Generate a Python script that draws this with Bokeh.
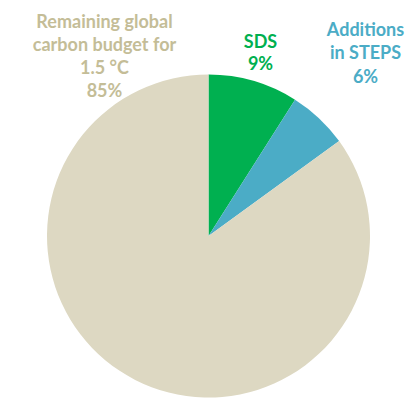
import math
from bokeh.plotting import figure
from bokeh.models import Range1d, ColumnDataSource
from bokeh.core.properties import value
from bokeh.embed import file_html
from bokeh.resources import INLINE

categories = ["SDS", "Additions in STEPS", "Remaining global carbon budget for 1.5 °C"]
shares = [9, 6, 85]
colors = ["#00B050", "#4BACC6", "#DDD8C2"]
text_colors = ["#00B050", "#4BACC6", "#C4BD97"]
label_lines = [["SDS", "9%"], ["Additions", "in STEPS", "6%"],
               ["Remaining global", "carbon budget for", "1.5 °C", "85%"]]

W, H = 405, 398
p = figure(width=W, height=H, output_backend="svg", toolbar_location=None,
           x_range=Range1d(0, W), y_range=Range1d(0, H), min_border=0)
p.axis.visible = False
p.grid.visible = False
p.outline_line_color = None
p.background_fill_color = "white"

cx, cy, r = 208, H - 235.5, 161.5
total = sum(shares)
starts, ends = [], []
acc = 0
for s in shares:
    starts.append(math.pi / 2 - 2 * math.pi * acc / total)
    acc += s
    ends.append(math.pi / 2 - 2 * math.pi * acc / total)

src = ColumnDataSource(dict(start=starts, end=ends, color=colors))
p.wedge(x=cx, y=cy, radius=r, start_angle="start", end_angle="end",
        direction="clock", fill_color="color", line_color=None, source=src)

# label anchor positions (pixel, from top) and line spacing
anchors = [(260, 40), (365, 28), (104, 20)]
spacing = [22, 23.5, 23]
xs, ys, ts, cs = [], [], [], []
for (ax, ay), lines, col, sp in zip(anchors, label_lines, text_colors, spacing):
    for i, t in enumerate(lines):
        xs.append(ax)
        ys.append(H - (ay + i * sp))
        ts.append(t)
        cs.append(col)
p.text(x=xs, y=ys, text=ts, text_color=cs, text_align="center",
       text_baseline="middle", text_font=value("Lato"), text_font_style="bold",
       text_font_size="18px")

open("out.html", "w").write(file_html(p, INLINE))
